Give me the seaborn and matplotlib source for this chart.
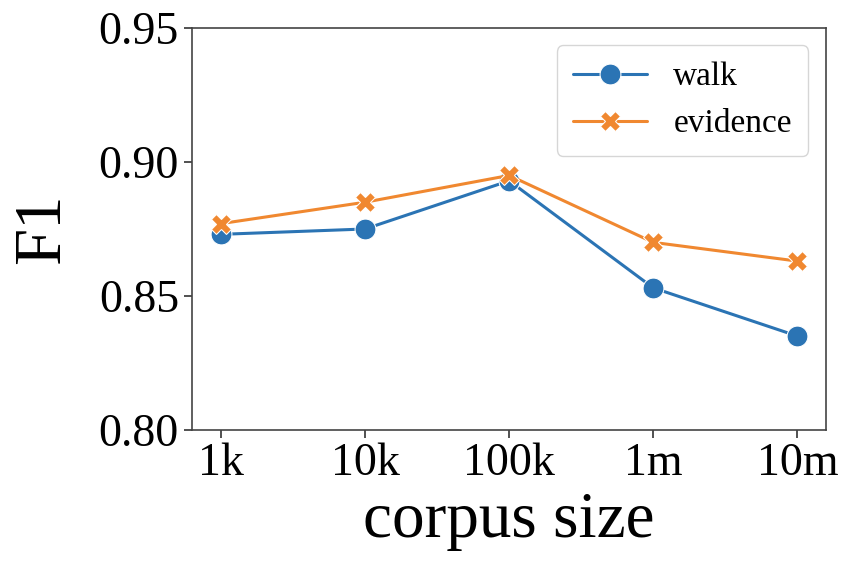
import matplotlib
matplotlib.use("Agg")
import matplotlib.pyplot as plt
import seaborn as sns
import pandas as pd

sizes = ["1k", "10k", "100k", "1m", "10m"]
walk = [0.873, 0.875, 0.893, 0.853, 0.835]
evidence = [0.877, 0.885, 0.895, 0.870, 0.863]
series_names = ["walk", "evidence"]
y_ticks = [0.80, 0.85, 0.90, 0.95]
colors = ["#2b74b4", "#f08830"]

df = pd.DataFrame({
    "corpus size": sizes * 2,
    "F1": walk + evidence,
    "method": [series_names[0]] * len(sizes) + [series_names[1]] * len(sizes),
})

sns.set_style("ticks")
plt.rcParams["font.family"] = ["Liberation Serif", "DejaVu Serif"]
plt.rcParams["text.color"] = "black"
plt.rcParams["axes.labelcolor"] = "black"

fig = plt.figure(figsize=(8.5, 5.64), dpi=100)
ax = fig.add_axes([0.226, 0.238, 0.746, 0.712])
sns.lineplot(data=df, x="corpus size", y="F1", hue="method", style="method",
             markers=["o", "X"], dashes=False, markersize=15, linewidth=2.2,
             palette=colors, markeredgecolor="white", ax=ax, sort=False)
ax.set_ylim(0.80, 0.95)
ax.set_yticks(y_ticks)
ax.set_yticklabels([f"{t:.2f}" for t in y_ticks])
ax.tick_params(axis="both", labelsize=33, length=6, width=1.2, colors="#333333", labelcolor="black")
ax.set_xlabel("corpus size", fontsize=47, color="black")
ax.set_ylabel("F1", fontsize=48, color="black", labelpad=18)
for s in ax.spines.values():
    s.set_color("#444444")
    s.set_linewidth(1.2)
leg = ax.legend(loc="upper right", fontsize=24, frameon=True, borderpad=0.5,
                handlelength=2.2, borderaxespad=0, bbox_to_anchor=(0.972, 0.958))
leg.get_frame().set_edgecolor("#cccccc")
for t in leg.get_texts():
    t.set_color("black")
fig.savefig("out.png", dpi=100)
